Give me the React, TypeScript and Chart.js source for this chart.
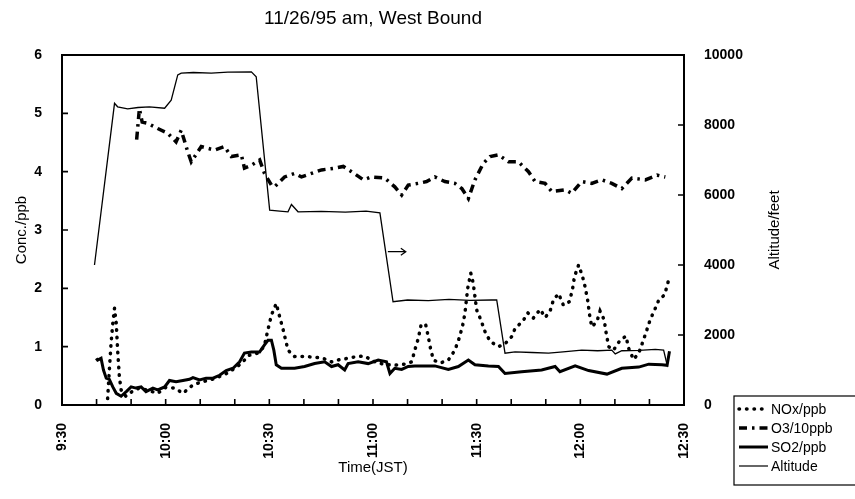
import React, { useEffect, useRef } from 'react';
import { Chart, registerables } from 'chart.js';

Chart.register(...registerables);

// Time axis: minutes after 9:30 (JST)
const START_MIN = 9 * 60 + 30;
const TIME_MIN = 0;
const TIME_MAX = 180;
const TIME_STEP = 10;
const LABEL_EVERY = 30;

const TITLE = '11/26/95 am, West Bound';
const X_TITLE = 'Time(JST)';
const Y_TITLE = 'Conc./ppb';
const Y1_TITLE = 'Altitude/feet';
const SERIES_NAMES = ['NOx/ppb', 'O3/10ppb', 'SO2/ppb', 'Altitude'];

// NOx (ppb)
const noxTime = [13.2, 13.7, 14.2, 14.7, 15.2, 15.7, 16.1, 16.6, 17.1, 18.5, 20, 22.4, 25, 27.7, 30, 32.6, 35, 38, 40.8, 44, 48, 51.9, 54, 56.7, 58.5, 59.6, 60.6, 62, 63, 64, 65.4, 67.3, 70.2, 73.1, 75.6, 78, 80.4, 82.8, 85.2, 87.6, 90, 93, 96, 99, 101.2, 102.1, 103.1, 103.9, 105.2, 106, 106.7, 107.5, 109.5, 111.8, 113.7, 114.9, 115.9, 116.6, 117.4, 118.3, 119, 120, 121.2, 122.4, 123.9, 126.3, 128.2, 130.1, 131.1, 133.5, 134.8, 136.4, 138.4, 139.8, 141.2, 142.2, 143.7, 145.1, 146.8, 147.7, 148.3, 149.5, 150.6, 151.4, 152.2, 152.6, 153.3, 154.8, 155.7, 156.9, 157.4, 158.2, 159.6, 161.5, 163.2, 164, 165.4, 166.9, 168, 169.1, 170.2, 171.5, 172.7, 174.4, 175.4];
const noxVals = [0.11, 0.6, 1.06, 1.4, 1.66, 1.4, 0.94, 0.49, 0.26, 0.15, 0.22, 0.29, 0.25, 0.2, 0.3, 0.29, 0.2, 0.35, 0.4, 0.45, 0.55, 0.71, 0.85, 0.89, 1.0, 1.29, 1.54, 1.74, 1.51, 1.29, 0.94, 0.83, 0.83, 0.82, 0.8, 0.74, 0.78, 0.8, 0.83, 0.84, 0.75, 0.7, 0.68, 0.7, 0.74, 0.94, 1.14, 1.37, 1.39, 1.17, 0.95, 0.77, 0.72, 0.77, 0.94, 1.14, 1.35, 1.57, 2.0, 2.26, 2.09, 1.63, 1.46, 1.26, 1.09, 1.0, 1.05, 1.17, 1.31, 1.45, 1.58, 1.49, 1.64, 1.5, 1.6, 1.8, 1.91, 1.71, 1.77, 1.97, 2.2, 2.4, 2.21, 2.02, 1.77, 1.57, 1.34, 1.43, 1.61, 1.46, 1.26, 1.0, 0.94, 1.11, 1.18, 0.97, 0.78, 0.89, 1.07, 1.26, 1.46, 1.63, 1.8, 1.89, 2.11];

// O3 (per 10 ppb)
const o3Time = [21.6, 22.4, 23.2, 24.8, 27.7, 30.6, 33.0, 34.5, 36.4, 37.4, 40.3, 44.1, 47.0, 49.0, 51.9, 52.8, 54.8, 57.2, 58.6, 60.6, 61.5, 64.4, 67.3, 69.3, 72.2, 75.1, 78.9, 81.4, 83.8, 87.2, 89.6, 93.4, 96.3, 98.3, 100.2, 103.1, 105.5, 107.9, 110.8, 113.7, 115.7, 117.6, 119.5, 121.9, 123.9, 126.3, 129.2, 132.1, 135.0, 136.9, 139.8, 141.7, 145.6, 147.5, 150.4, 153.3, 156.2, 159.1, 162.0, 164.9, 168.8, 172.2, 174.6];
const o3Vals = [4.55, 5.08, 4.85, 4.83, 4.74, 4.66, 4.51, 4.71, 4.34, 4.17, 4.43, 4.37, 4.43, 4.26, 4.29, 4.06, 4.11, 4.2, 3.97, 3.77, 3.74, 3.91, 3.97, 3.91, 3.97, 4.03, 4.06, 4.09, 4.0, 3.86, 3.91, 3.89, 3.74, 3.6, 3.77, 3.8, 3.83, 3.91, 3.83, 3.8, 3.71, 3.54, 3.86, 4.14, 4.26, 4.29, 4.17, 4.17, 4.0, 3.83, 3.8, 3.66, 3.69, 3.63, 3.83, 3.8, 3.86, 3.8, 3.71, 3.89, 3.86, 3.94, 3.91];

// SO2 (ppb)
const so2Time = [9.9, 10.3, 11.3, 12.0, 12.8, 13.7, 14.7, 15.7, 17.1, 18.6, 20, 21.4, 22.9, 24.3, 26.3, 27.7, 29.7, 31.1, 33, 35, 36.9, 37.9, 39.8, 41.7, 43.7, 45.6, 47.5, 49.5, 51.4, 52.8, 54.8, 57.2, 58.6, 59.6, 60.6, 61.3, 62, 63.5, 67.3, 70.2, 73.1, 76, 78, 79.9, 81.8, 82.8, 85.7, 88.6, 91.5, 93.9, 94.9, 96.3, 98.3, 100.2, 102.1, 105, 107.9, 111.8, 114.7, 117.6, 119.5, 123.4, 126.3, 128.2, 133, 138.8, 142.7, 144.1, 148.5, 152.4, 157.7, 162, 166.9, 169.8, 173.6, 175.1, 175.8];
const so2Vals = [0.8, 0.77, 0.8, 0.6, 0.46, 0.44, 0.31, 0.2, 0.15, 0.23, 0.31, 0.29, 0.31, 0.23, 0.29, 0.26, 0.31, 0.42, 0.4, 0.42, 0.44, 0.47, 0.43, 0.46, 0.46, 0.51, 0.59, 0.63, 0.74, 0.89, 0.91, 0.91, 1.03, 1.11, 1.11, 0.94, 0.69, 0.63, 0.63, 0.66, 0.71, 0.74, 0.66, 0.69, 0.6, 0.71, 0.74, 0.71, 0.77, 0.74, 0.54, 0.63, 0.61, 0.66, 0.67, 0.67, 0.67, 0.61, 0.66, 0.77, 0.69, 0.67, 0.66, 0.54, 0.57, 0.6, 0.66, 0.57, 0.67, 0.59, 0.53, 0.63, 0.65, 0.7, 0.69, 0.68, 0.92];

// Altitude (feet)
const altTime = [9.4, 15.2, 16.1, 19.0, 22.0, 25.3, 29.7, 31.6, 33.5, 34.5, 38, 43.2, 48, 54.8, 56.2, 60.1, 63, 65.4, 66.4, 68.3, 75, 82, 88, 92.0, 95.8, 100, 106, 112, 118, 124.3, 125.8, 128.2, 131.1, 136, 140.8, 145, 150.4, 155, 159.1, 160.1, 162, 167, 171.7, 174.1, 175.1, 175.8];
const altVals = [4000, 8620, 8520, 8460, 8500, 8520, 8480, 8710, 9430, 9480, 9500, 9480, 9510, 9520, 9380, 5570, 5540, 5520, 5730, 5520, 5530, 5510, 5540, 5490, 2950, 3000, 2980, 3020, 2990, 3000, 3000, 1480, 1520, 1500, 1480, 1520, 1570, 1550, 1570, 1460, 1550, 1560, 1590, 1570, 1150, 1480];

// Arrow marking the altitude curve (points to the right axis)
const arrowFrom = [94.3, 4380];
const arrowTo = [99.5, 4380];

const Y_MIN = 0, Y_MAX = 6, Y_STEP = 1;
const Y1_MIN = 0, Y1_MAX = 10000, Y1_STEP = 2000;

const FONT = '"Liberation Sans", Arial, sans-serif';
const INK = '#000';

const NOX_DASH = [0.5, 7];
const O3_DASH = [8, 5, 2.5, 5];

const toPts = (t: number[], v: number[]) => t.map((x, i) => ({ x, y: v[i] }));
const fmtTime = (m: number) => {
  const tot = START_MIN + m;
  const h = Math.floor(tot / 60);
  const mm = tot % 60;
  return `${h}:${mm < 10 ? '0' : ''}${mm}`;
};

const decorPlugin = {
  id: 'decor',
  afterDraw(chart: any) {
    const { ctx, chartArea: ca, scales } = chart;
    const x = scales.x, y = scales.y, y1 = scales.y1;
    ctx.save();
    // frame
    ctx.strokeStyle = INK;
    ctx.lineWidth = 2;
    ctx.setLineDash([]);
    ctx.strokeRect(ca.left, ca.top, ca.right - ca.left, ca.bottom - ca.top);
    // inward ticks
    ctx.lineWidth = 1.6;
    ctx.beginPath();
    for (let v = TIME_MIN + TIME_STEP; v < TIME_MAX; v += TIME_STEP) {
      const px = x.getPixelForValue(v);
      ctx.moveTo(px, ca.bottom);
      ctx.lineTo(px, ca.bottom - 6);
    }
    for (let v = Y_MIN + Y_STEP; v < Y_MAX; v += Y_STEP) {
      const py = y.getPixelForValue(v);
      ctx.moveTo(ca.left, py);
      ctx.lineTo(ca.left + 6, py);
    }
    for (let v = Y1_MIN + Y1_STEP; v < Y1_MAX; v += Y1_STEP) {
      const py = y1.getPixelForValue(v);
      ctx.moveTo(ca.right, py);
      ctx.lineTo(ca.right - 6, py);
    }
    ctx.stroke();

    // arrow
    const ax0 = x.getPixelForValue(arrowFrom[0]);
    const ax1 = x.getPixelForValue(arrowTo[0]);
    const ay = y1.getPixelForValue(arrowFrom[1]);
    ctx.lineWidth = 1.2;
    ctx.beginPath();
    ctx.moveTo(ax0, ay);
    ctx.lineTo(ax1, ay);
    ctx.moveTo(ax1 - 5, ay - 3.5);
    ctx.lineTo(ax1, ay);
    ctx.lineTo(ax1 - 5, ay + 3.5);
    ctx.stroke();

    // chart title
    ctx.fillStyle = INK;
    ctx.font = `19px ${FONT}`;
    ctx.textAlign = 'center';
    ctx.textBaseline = 'middle';
    ctx.fillText(TITLE, (ca.left + ca.right) / 2, 19);

    // right axis title (reads bottom-to-top)
    ctx.save();
    ctx.translate(775, (ca.top + ca.bottom) / 2);
    ctx.rotate(-Math.PI / 2);
    ctx.font = `15px ${FONT}`;
    ctx.fillText(Y1_TITLE, 0, 0);
    ctx.restore();

    // legend box
    const lx = 734, ly = 396, lw = 130, lh = 89;
    ctx.lineWidth = 1.2;
    ctx.strokeRect(lx, ly, lw, lh);
    const styles = [
      { w: 3.5, dash: NOX_DASH, cap: 'round' },
      { w: 3.5, dash: O3_DASH, cap: 'butt' },
      { w: 3, dash: [] as number[], cap: 'butt' },
      { w: 1.2, dash: [] as number[], cap: 'butt' },
    ];
    ctx.font = `14px ${FONT}`;
    ctx.textAlign = 'left';
    SERIES_NAMES.forEach((name, i) => {
      const ry = ly + 13 + i * 19;
      ctx.setLineDash(styles[i].dash);
      ctx.lineCap = styles[i].cap;
      ctx.lineWidth = styles[i].w;
      ctx.beginPath();
      ctx.moveTo(lx + 5, ry);
      ctx.lineTo(lx + 34, ry);
      ctx.stroke();
      ctx.setLineDash([]);
      ctx.lineCap = 'butt';
      ctx.fillText(name, lx + 37, ry + 1);
    });
    ctx.restore();
  },
};

export default function App() {
  const ref = useRef<HTMLCanvasElement>(null);
  useEffect(() => {
    if (!ref.current) return;
    const tickFont = { family: FONT, size: 14, weight: 'bold' as const };
    const chart = new Chart(ref.current, {
      type: 'line',
      data: {
        datasets: [
          {
            label: SERIES_NAMES[0], data: toPts(noxTime, noxVals), yAxisID: 'y',
            borderColor: INK, borderWidth: 3.5, borderDash: NOX_DASH, borderCapStyle: 'round',
            pointRadius: 0, tension: 0,
          },
          {
            label: SERIES_NAMES[1], data: toPts(o3Time, o3Vals), yAxisID: 'y',
            borderColor: INK, borderWidth: 3.5, borderDash: O3_DASH, pointRadius: 0, tension: 0,
          },
          {
            label: SERIES_NAMES[2], data: toPts(so2Time, so2Vals), yAxisID: 'y',
            borderColor: INK, borderWidth: 3, pointRadius: 0, tension: 0,
          },
          {
            label: SERIES_NAMES[3], data: toPts(altTime, altVals), yAxisID: 'y1',
            borderColor: INK, borderWidth: 1.3, pointRadius: 0, tension: 0,
          },
        ],
      },
      options: {
        responsive: false,
        animation: false,
        layout: { padding: { top: 55, left: 0, right: 0, bottom: 0 } },
        plugins: { legend: { display: false }, title: { display: false }, tooltip: { enabled: false } },
        scales: {
          x: {
            type: 'linear', min: TIME_MIN, max: TIME_MAX,
            grid: { display: false }, border: { display: false },
            ticks: {
              stepSize: TIME_STEP, autoSkip: false, minRotation: 90, maxRotation: 90,
              padding: 10, color: INK, font: tickFont,
              callback: (v: any) => (Number(v) % LABEL_EVERY === 0 ? fmtTime(Number(v)) : ''),
            },
            title: { display: true, text: X_TITLE, color: INK, font: { family: FONT, size: 15 }, padding: { top: 0, bottom: 22 } },
            afterFit: (s: any) => { s.height = 94; },
          },
          y: {
            position: 'left', min: Y_MIN, max: Y_MAX,
            grid: { display: false }, border: { display: false },
            ticks: { stepSize: Y_STEP, padding: 12, color: INK, font: tickFont },
            title: { display: true, text: Y_TITLE, color: INK, font: { family: FONT, size: 15 }, padding: { top: 13, bottom: 0 } },
            afterFit: (s: any) => { s.width = 62; },
          },
          y1: {
            position: 'right', min: Y1_MIN, max: Y1_MAX,
            grid: { display: false }, border: { display: false },
            ticks: { stepSize: Y1_STEP, padding: 12, color: INK, font: tickFont, callback: (v: any) => String(v) },
            afterFit: (s: any) => { s.width = 171; },
          },
        },
      },
      plugins: [decorPlugin],
    } as any);
    return () => chart.destroy();
  }, []);
  return (
    <div style={{ position: 'absolute', left: 0, top: 0, width: 855, height: 499, background: '#fff' }}>
      <canvas ref={ref} width={855} height={499} style={{ width: 855, height: 499, display: 'block' }} />
    </div>
  );
}
